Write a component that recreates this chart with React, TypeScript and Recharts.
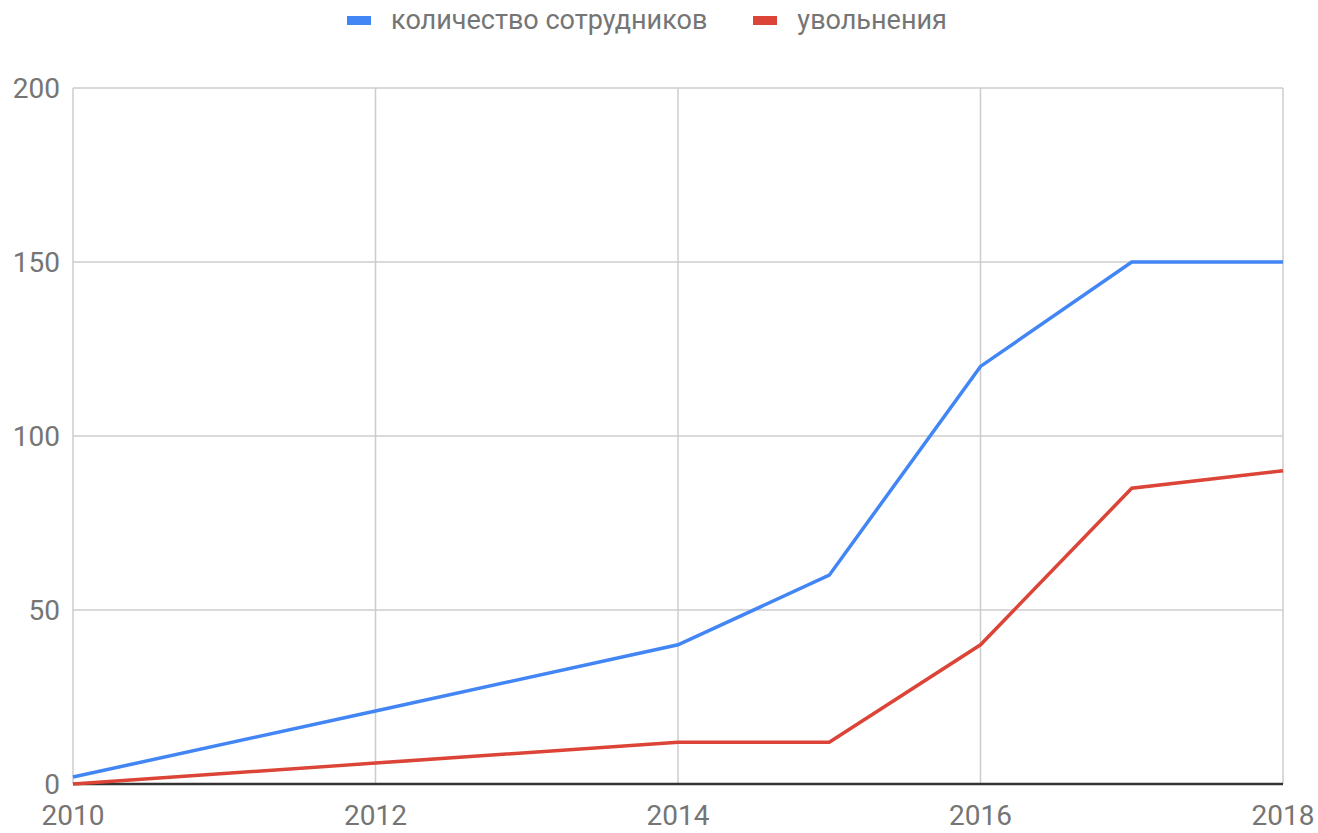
import React from 'react';
import { LineChart, Line, XAxis, YAxis, CartesianGrid, ReferenceLine } from 'recharts';

const years = [2010, 2012, 2014, 2015, 2016, 2017, 2018];
const employees = [2, 21, 40, 60, 120, 150, 150];
const dismissals = [0, 6, 12, 12, 40, 85, 90];
const xTicks = [2010, 2012, 2014, 2016, 2018];
const yTicks = [0, 50, 100, 150, 200];

const seriesNames = ['количество сотрудников', 'увольнения'];
const seriesColors = ['#4285f4', '#db4437'];

const data = years.map((year, i) => ({
  year,
  employees: employees[i],
  dismissals: dismissals[i],
}));

const FONT = 'Roboto, "Noto Sans", sans-serif';
const TEXT = '#757575';

// legend drawn over the chart so it doesn't eat into the plot area
const ChartLegend = () => (
  <div
    style={{
      position: 'absolute',
      top: 4,
      left: -12,
      width: 1318,
      display: 'flex',
      justifyContent: 'center',
      alignItems: 'center',
      fontFamily: FONT,
      fontSize: 27,
      color: TEXT,
    }}
  >
    {seriesNames.map((name, i) => (
      <div key={name} style={{ display: 'flex', alignItems: 'center', marginLeft: i === 0 ? 0 : 46 }}>
        <span style={{ display: 'inline-block', width: 24, height: 9, background: seriesColors[i], marginRight: 20 }} />
        <span>{name}</span>
      </div>
    ))}
  </div>
);

const App: React.FC = () => {
  return (
    <div style={{ position: 'absolute', top: 0, left: 0, width: 1318, height: 833, background: '#fff', overflow: 'hidden' }}>
      <LineChart width={1318} height={833} data={data} margin={{ top: 88, right: 35, bottom: 0, left: 0 }}>
        <CartesianGrid stroke="#cccccc" strokeWidth={1.5} />
        <XAxis
          dataKey="year"
          type="number"
          domain={[2010, 2018]}
          ticks={xTicks}
          axisLine={false}
          tickLine={false}
          tickSize={0}
          tickMargin={21}
          height={49}
          interval={0}
          tick={{ fill: TEXT, fontSize: 28, fontFamily: FONT }}
        />
        <YAxis
          domain={[0, 200]}
          ticks={yTicks}
          axisLine={false}
          tickLine={false}
          tickSize={0}
          tickMargin={13}
          width={73}
          interval={0}
          tick={{ fill: TEXT, fontSize: 28, fontFamily: FONT }}
        />
        <ReferenceLine y={0} stroke="#333333" strokeWidth={2.5} />
        <Line
          type="linear"
          dataKey="employees"
          name={seriesNames[0]}
          stroke={seriesColors[0]}
          strokeWidth={3.5}
          dot={false}
          isAnimationActive={false}
        />
        <Line
          type="linear"
          dataKey="dismissals"
          name={seriesNames[1]}
          stroke={seriesColors[1]}
          strokeWidth={3.5}
          dot={false}
          isAnimationActive={false}
        />
      </LineChart>
      <ChartLegend />
    </div>
  );
};

export default App;
